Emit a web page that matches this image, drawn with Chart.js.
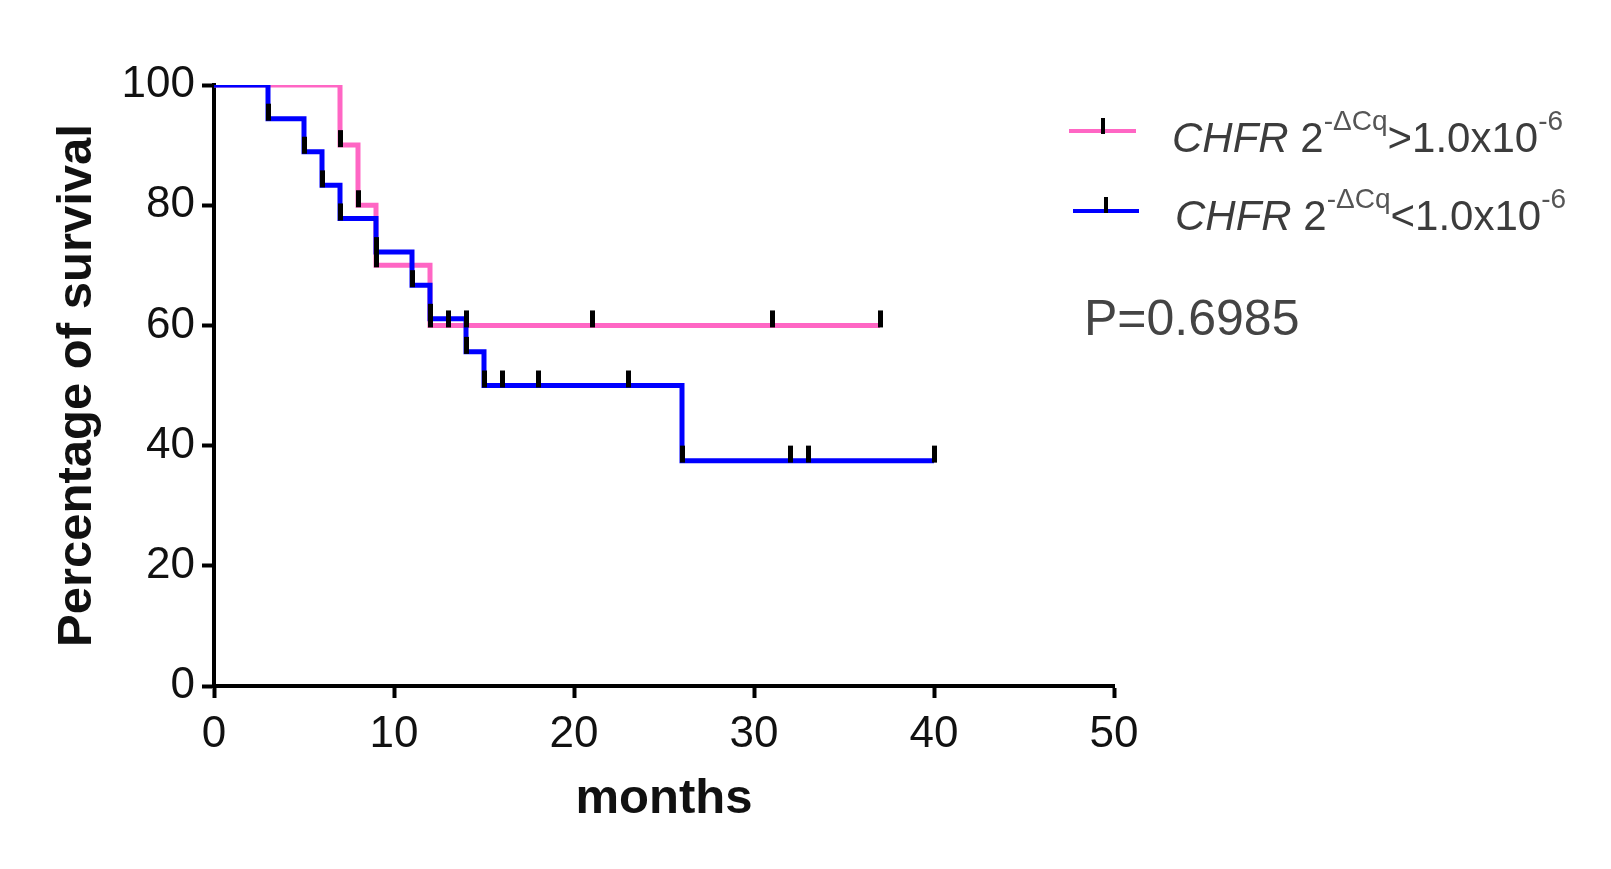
<!DOCTYPE html>
<html>
<head>
<meta charset="utf-8">
<script src="https://cdn.jsdelivr.net/npm/chart.js@4.4.1/dist/chart.umd.min.js"></script>
<style>
  html, body { margin: 0; padding: 0; background: #fff; }
  #wrap { position: relative; width: 1611px; height: 869px; font-family: "Liberation Sans", Arial, sans-serif; }
  #chart { position: absolute; left: 0; top: 0; }
  .sample { position: absolute; height: 4px; }
  .mark { position: absolute; width: 4px; height: 16px; background: #000; }
  .leg { position: absolute; font-size: 42px; line-height: 42px; color: #3c3c3c; white-space: nowrap; }
  .leg sup { font-size: 28px; position: relative; top: -22px; vertical-align: baseline; color: #555; }
  .pval { position: absolute; left: 1084px; top: 293px; font-size: 50px; line-height: 50px; color: #444; }
</style>
</head>
<body>
<div id="wrap">
  <canvas id="chart"></canvas>
  <div class="sample" style="left:1069px; top:129px; width:67px; background:#ff66c4;"></div>
  <div class="mark" style="left:1101px; top:118px;"></div>
  <div class="leg" style="left:1172px; top:117px;"><i>CHFR</i> 2<sup>-ΔCq</sup>&gt;1.0x10<sup>-6</sup></div>
  <div class="sample" style="left:1073px; top:209px; width:66px; background:#0000ff;"></div>
  <div class="mark" style="left:1104px; top:197px;"></div>
  <div class="leg" style="left:1175px; top:195px;"><i>CHFR</i> 2<sup>-ΔCq</sup>&lt;1.0x10<sup>-6</sup></div>
  <div class="pval">P=0.6985</div>
</div>
<script>
// survival curves (months, % surviving)
var highMonths = [0, 7, 8, 9, 12, 37];
var highSurvival = [100, 90, 80, 70, 60, 60];
var lowMonths = [0, 3, 5, 6, 7, 9, 11, 12, 14, 15, 26, 40];
var lowSurvival = [100, 94.4, 88.9, 83.3, 77.8, 72.2, 66.7, 61.1, 55.6, 50, 37.5, 37.5];

// tick marks drawn on the curves
var highTickMonths = [7, 8, 9, 12, 13, 14, 21, 31, 37];
var highTickSurvival = [90, 80, 70, 60, 60, 60, 60, 60, 60];
var lowTickMonths = [3, 5, 6, 7, 9, 11, 12, 14, 15, 16, 18, 23, 26, 32, 33, 40];
var lowTickSurvival = [94.4, 88.9, 83.3, 77.8, 72.2, 66.7, 61.1, 55.6, 50, 50, 50, 50, 37.5, 37.5, 37.5, 37.5];

var xTicks = [0, 10, 20, 30, 40, 50];
var yTicks = [0, 20, 40, 60, 80, 100];

var font = '"Liberation Sans", Arial, sans-serif';

function pts(xs, ys) {
  return xs.map(function (x, i) { return { x: x, y: ys[i] }; });
}

// small black tick sitting on top of the line
var tick = document.createElement('canvas');
tick.width = 5;
tick.height = 38;
var g = tick.getContext('2d');
g.fillStyle = '#000';
g.fillRect(0, 4, 5, 17);

var cv = document.getElementById('chart');
cv.width = 1611;
cv.height = 869;
cv.style.width = '1611px';
cv.style.height = '869px';

new Chart(cv, {
  type: 'line',
  data: {
    datasets: [
      { type: 'scatter', data: pts(lowTickMonths, lowTickSurvival), pointStyle: tick, showLine: false, clip: false },
      { type: 'scatter', data: pts(highTickMonths, highTickSurvival), pointStyle: tick, showLine: false, clip: false },
      { data: pts(lowMonths, lowSurvival), borderColor: '#0000ff', borderWidth: 5, stepped: 'before', pointRadius: 0, fill: false },
      { data: pts(highMonths, highSurvival), borderColor: '#ff66c4', borderWidth: 5, stepped: 'before', pointRadius: 0, fill: false }
    ]
  },
  options: {
    responsive: false,
    animation: false,
    events: [],
    layout: { padding: { left: 0, top: 85, right: 497, bottom: 0 } },
    plugins: { legend: { display: false }, tooltip: { enabled: false } },
    scales: {
      x: {
        type: 'linear',
        min: 0,
        max: 50,
        afterBuildTicks: function (s) { s.ticks = xTicks.map(function (v) { return { value: v }; }); },
        afterFit: function (s) { s.height = 183; },
        ticks: { color: '#111', font: { family: font, size: 44 }, padding: 10, maxRotation: 0 },
        grid: { drawOnChartArea: false, tickLength: 12, tickWidth: 4, tickColor: '#000' },
        border: { color: '#000', width: 4 },
        title: { display: true, text: 'months', color: '#111', font: { family: font, size: 49, weight: 'bold' }, padding: { top: 0, bottom: 40 } }
      },
      y: {
        min: 0,
        max: 100,
        afterBuildTicks: function (s) { s.ticks = yTicks.map(function (v) { return { value: v }; }); },
        afterFit: function (s) { s.width = 214; },
        ticks: { color: '#111', font: { family: font, size: 44 }, padding: 7 },
        grid: { drawOnChartArea: false, tickLength: 12, tickWidth: 4, tickColor: '#000' },
        border: { color: '#000', width: 4 },
        title: { display: true, text: 'Percentage of survival', color: '#111', font: { family: font, size: 49, weight: 'bold' }, padding: { top: 48, bottom: 0 } }
      }
    }
  }
});
</script>
</body>
</html>
